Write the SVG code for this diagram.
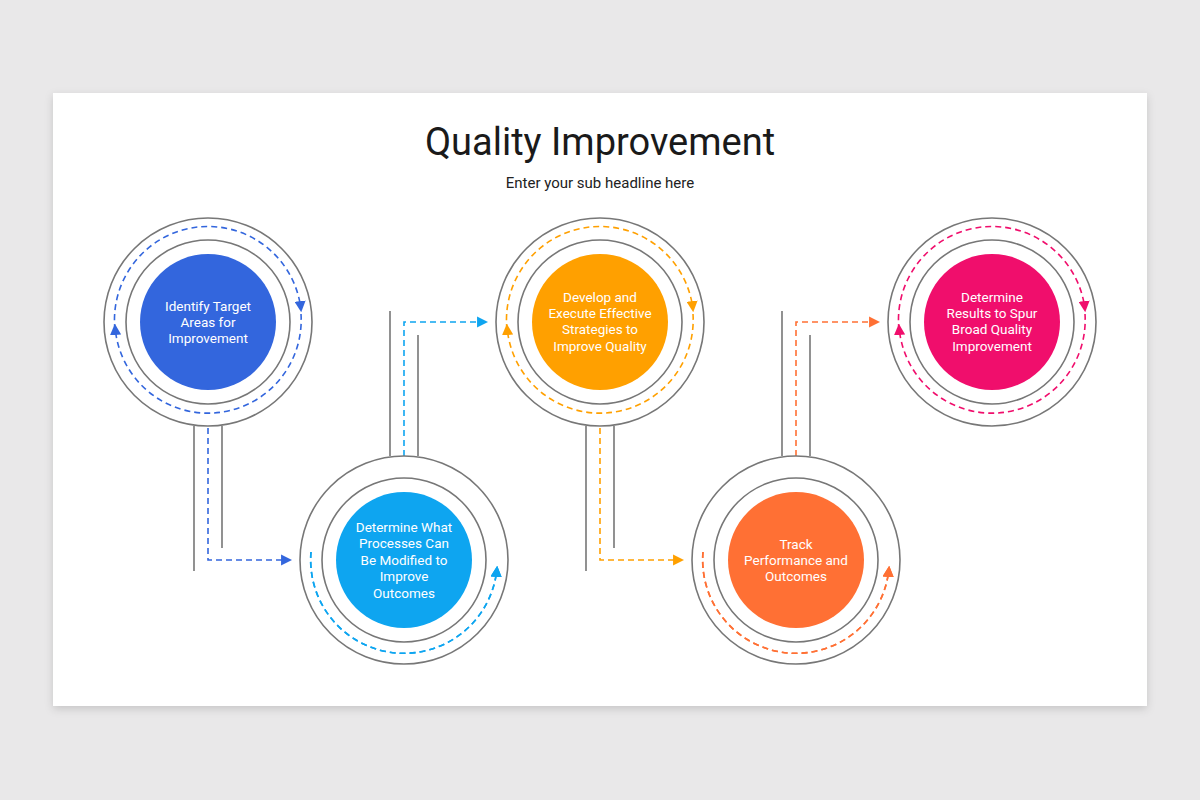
<svg xmlns="http://www.w3.org/2000/svg" width="1200" height="800" viewBox="0 0 1200 800">
<defs>
<filter id="sh" x="-5%" y="-5%" width="110%" height="115%"><feDropShadow dx="0" dy="3" stdDeviation="4" flood-color="#000" flood-opacity="0.15"/></filter>
<marker id="mb" viewBox="0 0 10 10" refX="8" refY="5" markerWidth="7" markerHeight="7" orient="auto"><path d="M0,0 L10,5 L0,10 z" fill="#3366dd"/></marker>
<marker id="ml" viewBox="0 0 10 10" refX="8" refY="5" markerWidth="7" markerHeight="7" orient="auto"><path d="M0,0 L10,5 L0,10 z" fill="#0ea5f0"/></marker>
<marker id="my" viewBox="0 0 10 10" refX="8" refY="5" markerWidth="7" markerHeight="7" orient="auto"><path d="M0,0 L10,5 L0,10 z" fill="#ffa000"/></marker>
<marker id="mo" viewBox="0 0 10 10" refX="8" refY="5" markerWidth="7" markerHeight="7" orient="auto"><path d="M0,0 L10,5 L0,10 z" fill="#ff7034"/></marker>
<marker id="mp" viewBox="0 0 10 10" refX="8" refY="5" markerWidth="7" markerHeight="7" orient="auto"><path d="M0,0 L10,5 L0,10 z" fill="#f00e6c"/></marker>
</defs>
<style>
.ring{fill:none;stroke:#777;stroke-width:1.6}
.rail{stroke:#777;stroke-width:1.6;fill:none}
.d{fill:none;stroke-width:1.6;stroke-dasharray:6 4}
.t{font-family:Roboto,"Liberation Sans",sans-serif;font-size:13.5px;fill:#fff;text-anchor:middle}
</style>
<rect width="1200" height="800" fill="#e9e8e9"/>
<rect x="53" y="93" width="1094" height="613" fill="#fff" filter="url(#sh)"/>
<text x="600" y="155" font-family="Roboto,'Liberation Sans',sans-serif" font-size="38" fill="#1a1a1a" text-anchor="middle">Quality Improvement</text>
<text x="600" y="188" font-family="Roboto,'Liberation Sans',sans-serif" font-size="15" fill="#222" text-anchor="middle">Enter your sub headline here</text>

<g id="connectors">
<path class="rail" d="M194,426V571M222,426V548"/>
<path class="d" stroke="#3366dd" d="M208,428V560H290" marker-end="url(#mb)"/>
<path class="rail" d="M390,311V456M418,335V456"/>
<path class="d" stroke="#0ea5f0" d="M404,456V322H486" marker-end="url(#ml)"/>
<path class="rail" d="M586,426V571M614,426V548"/>
<path class="d" stroke="#ffa000" d="M600,428V560H682" marker-end="url(#my)"/>
<path class="rail" d="M782,311V456M810,335V456"/>
<path class="d" stroke="#ff7034" d="M796,456V322H878" marker-end="url(#mo)"/>
</g>

<g id="n1">
<circle class="ring" cx="208" cy="322" r="104"/><circle class="ring" cx="208" cy="322" r="82"/>
<path class="d" stroke="#3366dd" d="M115,330 A93,93 0 0 1 301,310" marker-end="url(#mb)"/>
<path class="d" stroke="#3366dd" d="M301,314 A93,93 0 0 1 115,326" marker-end="url(#mb)"/>
<circle cx="208" cy="322" r="68" fill="#3366dd"/>
<text class="t" x="208" y="311">Identify Target</text><text class="t" x="208" y="327">Areas for</text><text class="t" x="208" y="343">Improvement</text>
</g>
<g id="n2">
<circle class="ring" cx="404" cy="560" r="104"/><circle class="ring" cx="404" cy="560" r="82"/>
<path class="d" stroke="#0ea5f0" d="M497,568 A93,93 0 0 0 311,552" marker-end="url(#ml)" transform="rotate(180 404 560) scale(1)"/>
<path class="d" stroke="#0ea5f0" d="M311,552 A93,93 0 0 0 497,568" marker-end="url(#ml)"/>
<circle cx="404" cy="560" r="68" fill="#0ea5f0"/>
<text class="t" x="404" y="532">Determine What</text><text class="t" x="404" y="548">Processes  Can</text><text class="t" x="404" y="565">Be Modified to</text><text class="t" x="404" y="581">Improve</text><text class="t" x="404" y="598">Outcomes</text>
</g>
<g id="n3">
<circle class="ring" cx="600" cy="322" r="104"/><circle class="ring" cx="600" cy="322" r="82"/>
<path class="d" stroke="#ffa000" d="M507,330 A93,93 0 0 1 693,310" marker-end="url(#my)"/>
<path class="d" stroke="#ffa000" d="M693,314 A93,93 0 0 1 507,326" marker-end="url(#my)"/>
<circle cx="600" cy="322" r="68" fill="#ffa000"/>
<text class="t" x="600" y="302">Develop and</text><text class="t" x="600" y="318">Execute Effective</text><text class="t" x="600" y="334">Strategies to</text><text class="t" x="600" y="351">Improve Quality</text>
</g>
<g id="n4">
<circle class="ring" cx="796" cy="560" r="104"/><circle class="ring" cx="796" cy="560" r="82"/>
<path class="d" stroke="#ff7034" d="M889,568 A93,93 0 0 0 703,552" marker-end="url(#mo)" transform="rotate(180 796 560)"/>
<path class="d" stroke="#ff7034" d="M703,552 A93,93 0 0 0 889,568" marker-end="url(#mo)"/>
<circle cx="796" cy="560" r="68" fill="#ff7034"/>
<text class="t" x="796" y="549">Track</text><text class="t" x="796" y="565">Performance and</text><text class="t" x="796" y="581">Outcomes</text>
</g>
<g id="n5">
<circle class="ring" cx="992" cy="322" r="104"/><circle class="ring" cx="992" cy="322" r="82"/>
<path class="d" stroke="#f00e6c" d="M899,330 A93,93 0 0 1 1085,310" marker-end="url(#mp)"/>
<path class="d" stroke="#f00e6c" d="M1085,314 A93,93 0 0 1 899,326" marker-end="url(#mp)"/>
<circle cx="992" cy="322" r="68" fill="#f00e6c"/>
<text class="t" x="992" y="302">Determine</text><text class="t" x="992" y="318">Results to Spur</text><text class="t" x="992" y="334">Broad Quality</text><text class="t" x="992" y="351">Improvement</text>
</g>
</svg>
